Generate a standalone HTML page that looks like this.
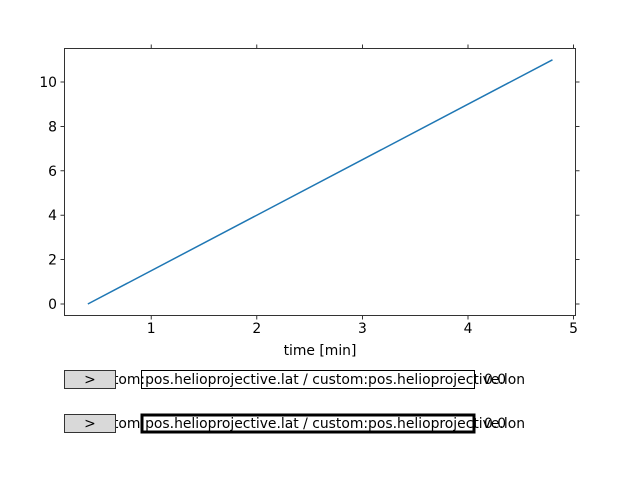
<!DOCTYPE html>
<html><head><meta charset="utf-8"><style>body{margin:0;background:#fff}svg{display:block;font-family:"DejaVu Sans","Liberation Sans",sans-serif}</style></head>
<body>
<svg id="c" width="640" height="480">
<rect width="640" height="480" fill="#fff"/>
<g id="plot"></g>
<g>
<rect x="141.5" y="370.5" width="333" height="18" fill="#fff" stroke="#000" stroke-width="1"/>
<text x="525" y="384" font-size="13.9" text-anchor="end">custom:pos.helioprojective.lat / custom:pos.helioprojective.lon</text>
<text x="484" y="384" font-size="13.9">0.0</text>
<rect x="64.5" y="370.5" width="51" height="18" fill="#d9d9d9" stroke="#333"/>
<text x="90" y="384" font-size="13.9" text-anchor="middle">&gt;</text>
</g>
<g>
<rect x="142" y="415" width="332" height="17" fill="#fff" stroke="#000" stroke-width="3"/>
<text x="525" y="428" font-size="13.9" text-anchor="end">custom:pos.helioprojective.lat / custom:pos.helioprojective.lon</text>
<text x="484" y="428" font-size="13.9">0.0</text>
<rect x="64.5" y="414.5" width="51" height="18" fill="#d9d9d9" stroke="#333"/>
<text x="90" y="428" font-size="13.9" text-anchor="middle">&gt;</text>
</g>
</svg>
<script>
const xTicks=[1,2,3,4,5];
const yTicks=[0,2,4,6,8,10];
const xs=[0.4,4.8];
const ys=[0,11];
const L=64,R=576,T=48,B=316;
const sx=v=>45.6+v*105.6;
const sy=v=>304-v*22.2;
const NS='http://www.w3.org/2000/svg';
const g=document.getElementById('plot');
function mk(t,a){const e=document.createElementNS(NS,t);for(const k in a)e.setAttribute(k,a[k]);g.appendChild(e);return e;}
const ln=mk('polyline',{points:xs.map((x,i)=>sx(x)+','+sy(ys[i])).join(' '),fill:'none',stroke:'#1f77b4','stroke-width':1.5});


const fr=mk('rect',{x:L+0.5,y:T+0.5,width:R-L-1,height:B-T-1,fill:'none',stroke:'#000','stroke-width':0.8});


xTicks.forEach(v=>{const x=sx(v);
const a=mk('line',{x1:x,x2:x,y1:B,y2:B+3.5,stroke:'#000','stroke-width':0.8});


const b=mk('line',{x1:x,x2:x,y1:T,y2:T-3.5,stroke:'#000','stroke-width':0.8});


const t=mk('text',{x:x,y:B+17,'font-size':13.9,'text-anchor':'middle'});t.textContent=v;

});
yTicks.forEach(v=>{const y=sy(v);
const a=mk('line',{x1:L,x2:L-3.5,y1:y,y2:y,stroke:'#000','stroke-width':0.8});


const b=mk('line',{x1:R,x2:R+3.5,y1:y,y2:y,stroke:'#000','stroke-width':0.8});


const t=mk('text',{x:L-7,y:y+5,'font-size':13.9,'text-anchor':'end'});t.textContent=v;

});
const xt=mk('text',{x:320,y:355,'font-size':13.9,'text-anchor':'middle'});xt.textContent='time [min]';


</script>
</body></html>
